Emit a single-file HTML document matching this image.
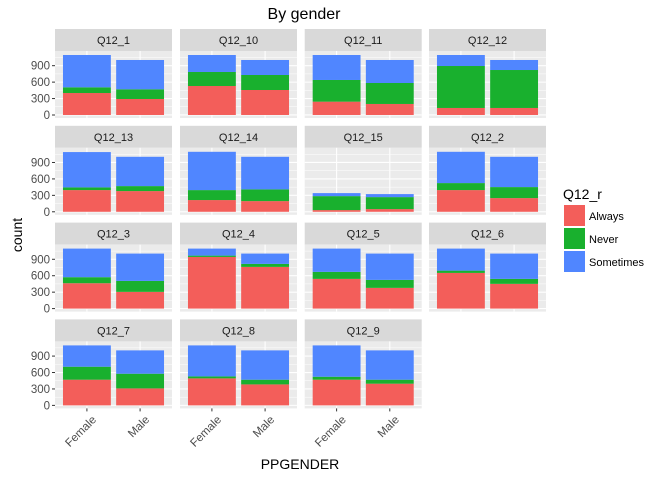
<!DOCTYPE html>
<html><head><meta charset="utf-8"><style>
body{margin:0;background:#fff;}
svg{display:block;font-family:"Liberation Sans",sans-serif;}
</style></head><body>
<svg id="chart" width="672" height="480" viewBox="0 0 672 480"></svg>
<script>
const facets = ["Q12_1","Q12_10","Q12_11","Q12_12","Q12_13","Q12_14","Q12_15","Q12_2","Q12_3","Q12_4","Q12_5","Q12_6","Q12_7","Q12_8","Q12_9"];
const genders = ["Female","Male"];
const femaleAlways = [401,529,243,128,396,214,31,396,463,943,542,651,469,493,469];
const femaleNever = [104,256,396,766,49,182,255,128,110,24,128,42,237,36,54];
const femaleSometimes = [590,310,456,201,645,699,55,571,522,128,425,402,389,566,572];
const maleAlways = [292,456,201,128,378,195,49,250,305,761,378,451,310,383,396];
const maleNever = [177,274,383,693,91,214,219,201,200,55,146,91,268,86,73];
const maleSometimes = [535,274,420,183,535,595,55,553,499,188,480,462,426,535,535];
const yTicks = [0,300,600,900];
const yMinor = [150,450,750,1050];
const colors = ["#F35E5A","#19B02E","#5086FF"];
const seriesNames = ["Always","Never","Sometimes"];

const NS="http://www.w3.org/2000/svg";
const svg=document.getElementById('chart');
function mk(tag,attrs,parent){const e=document.createElementNS(NS,tag);for(const k in attrs)e.setAttribute(k,attrs[k]);(parent||svg).appendChild(e);return e;}
const colX0=[55,180,304.7,429], panelW=117, stripH=22, panelH=67, rowY0=29, rowStep=96.8;
const yMin=-55, yMax=1168;
function yScale(v,top){return top+panelH-(v-yMin)/(yMax-yMin)*panelH;}
function xScale(i,left){return left+(i+1-0.4)/2.2*panelW;}
const barW=0.9/2.2*panelW;

const t=mk('text',{x:304,y:19,'text-anchor':'middle','font-size':16,fill:'#000'});t.textContent='By gender';



facets.forEach((f,idx)=>{
  const r=Math.floor(idx/4), c=idx%4;
  const left=colX0[c], stripTop=rowY0+r*rowStep, top=stripTop+stripH;
  const g=mk('g',{});
  
  
  const s=mk('rect',{x:left,y:stripTop,width:panelW,height:stripH,fill:'#D9D9D9'},g);
  
  
  const st=mk('text',{x:left+panelW/2,y:stripTop+15,'text-anchor':'middle','font-size':11,fill:'#1A1A1A'},g);st.textContent=f;
  
  
  mk('rect',{x:left,y:top,width:panelW,height:panelH,fill:'#EBEBEB'},g);
  yMinor.forEach(v=>mk('line',{x1:left,x2:left+panelW,y1:yScale(v,top),y2:yScale(v,top),stroke:'#fff','stroke-width':0.5},g));
  yTicks.forEach(v=>mk('line',{x1:left,x2:left+panelW,y1:yScale(v,top),y2:yScale(v,top),stroke:'#fff','stroke-width':1.1},g));
  genders.forEach((gd,i)=>mk('line',{x1:xScale(i,left),x2:xScale(i,left),y1:top,y2:top+panelH,stroke:'#fff','stroke-width':1.1},g));
  const vals=[[femaleAlways[idx],femaleNever[idx],femaleSometimes[idx]],[maleAlways[idx],maleNever[idx],maleSometimes[idx]]];
  vals.forEach((vs,i)=>{
    let cum=0;
    vs.forEach((v,k)=>{
      const y1=yScale(cum,top), y2=yScale(cum+v,top);
      const b=mk('rect',{x:xScale(i,left)-barW/2,y:y2,width:barW,height:y1-y2,fill:colors[k]},g);
      
      
      cum+=v;
    });
  });
  if(c===0){
    yTicks.forEach(v=>{
      const y=yScale(v,top);
      mk('line',{x1:left-3,x2:left,y1:y,y2:y,stroke:'#333','stroke-width':1},g);
      const tl=mk('text',{x:left-5,y:y+4,'text-anchor':'end','font-size':11.5,fill:'#4D4D4D'},g);tl.textContent=v;
      
      
    });
  }
  if(r===3){
    genders.forEach((gd,i)=>{
      const x=xScale(i,left), y=top+panelH;
      mk('line',{x1:x,x2:x,y1:y,y2:y+3,stroke:'#333','stroke-width':1},g);
      const tl=mk('text',{x:0,y:0,'text-anchor':'end','font-size':11.5,fill:'#4D4D4D',transform:`translate(${x+10} ${y+12}) rotate(-45)`},g);tl.textContent=gd;
      
      
    });
  }
});
const xl=mk('text',{x:300,y:469,'text-anchor':'middle','font-size':14,fill:'#000'});xl.textContent='PPGENDER';


const yl=mk('text',{x:0,y:0,'text-anchor':'middle','font-size':14,fill:'#000',transform:'translate(22 235) rotate(-90)'});yl.textContent='count';


const lg=mk('g',{});


const lt=mk('text',{x:563,y:199,'font-size':14,fill:'#000'},lg);lt.textContent='Q12_r';


seriesNames.forEach((n,k)=>{
  const y=205+k*23;
  const kr=mk('rect',{x:564,y:y,width:21,height:21,fill:colors[k]},lg);
  
  
  const tx=mk('text',{x:589,y:y+15,'font-size':11,fill:'#000'},lg);tx.textContent=n;
  
  
});
</script>
</body></html>
